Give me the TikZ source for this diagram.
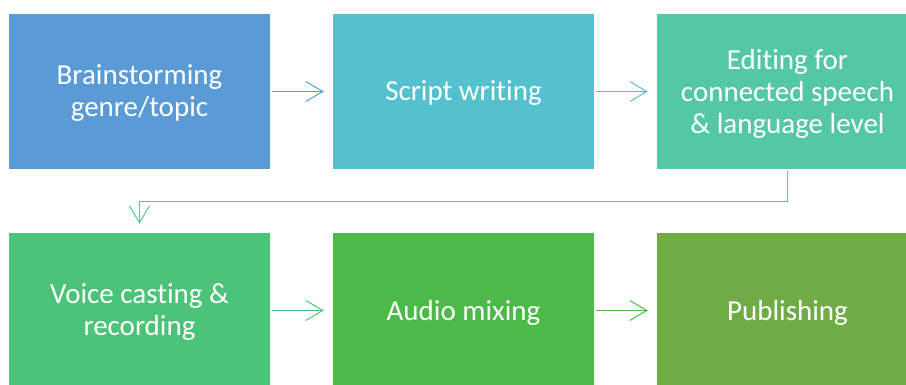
\documentclass[tikz,border=0pt]{standalone}
\usepackage{fontspec}
\setmainfont[Ligatures=NoCommon]{Carlito}
\usetikzlibrary{arrows.meta}
\definecolor{c1}{HTML}{5B9BD5}
\definecolor{c2}{HTML}{56C1CE}
\definecolor{c3}{HTML}{53C7A6}
\definecolor{c4}{HTML}{4DC279}
\definecolor{c5}{HTML}{4BBA48}
\definecolor{c6}{HTML}{6FAC46}
\tikzset{
  box/.style={draw=none, minimum width=261pt, minimum height=155pt, inner sep=0pt},
  boxtext/.style={text=white, align=center, inner sep=0pt, yshift=-2pt,
    font=\fontsize{29}{32}\selectfont},
  conn/.style={line width=1pt, -{Straight Barb[length=17pt,width=20pt,line width=1pt]},
    shorten <=2pt, shorten >=9pt},
}
\begin{document}
\begin{tikzpicture}[x=1pt,y=-1pt]
\useasboundingbox (0,0) rectangle (906,384);
\clip (0,0) rectangle (906,384);
\node[box, fill=c1] (b1) at (139.5,91.5) {};
\node[box, fill=c2] (b2) at (463.5,91.5) {};
\node[box, fill=c3] (b3) at (787.5,91.5) {};
\node[box, fill=c4] (b4) at (139.5,310.5) {};
\node[box, fill=c5] (b5) at (463.5,310.5) {};
\node[box, fill=c6] (b6) at (787.5,310.5) {};
\node[boxtext] (t1) at (b1) {Brainstorming\\genre/topic};
\node[boxtext] (t2) at (b2) {Script writing};
\node[boxtext] (t3) at (b3) {Editing for\\connected speech\\\& language level};
\node[boxtext] (t4) at (b4) {Voice casting \&\\recording};
\node[boxtext] (t5) at (b5) {Audio mixing};
\node[boxtext] (t6) at (b6) {Publishing};
\draw[conn, c1] (b1) -- (b2);
\draw[conn, c2] (b2) -- (b3);
\draw[conn, c3!85!c4] (b3.south) -- ++(0,32) -| (b4.north);
\draw[conn, c4] (b4) -- (b5);
\draw[conn, c5] (b5) -- (b6);
\end{tikzpicture}
\end{document}
